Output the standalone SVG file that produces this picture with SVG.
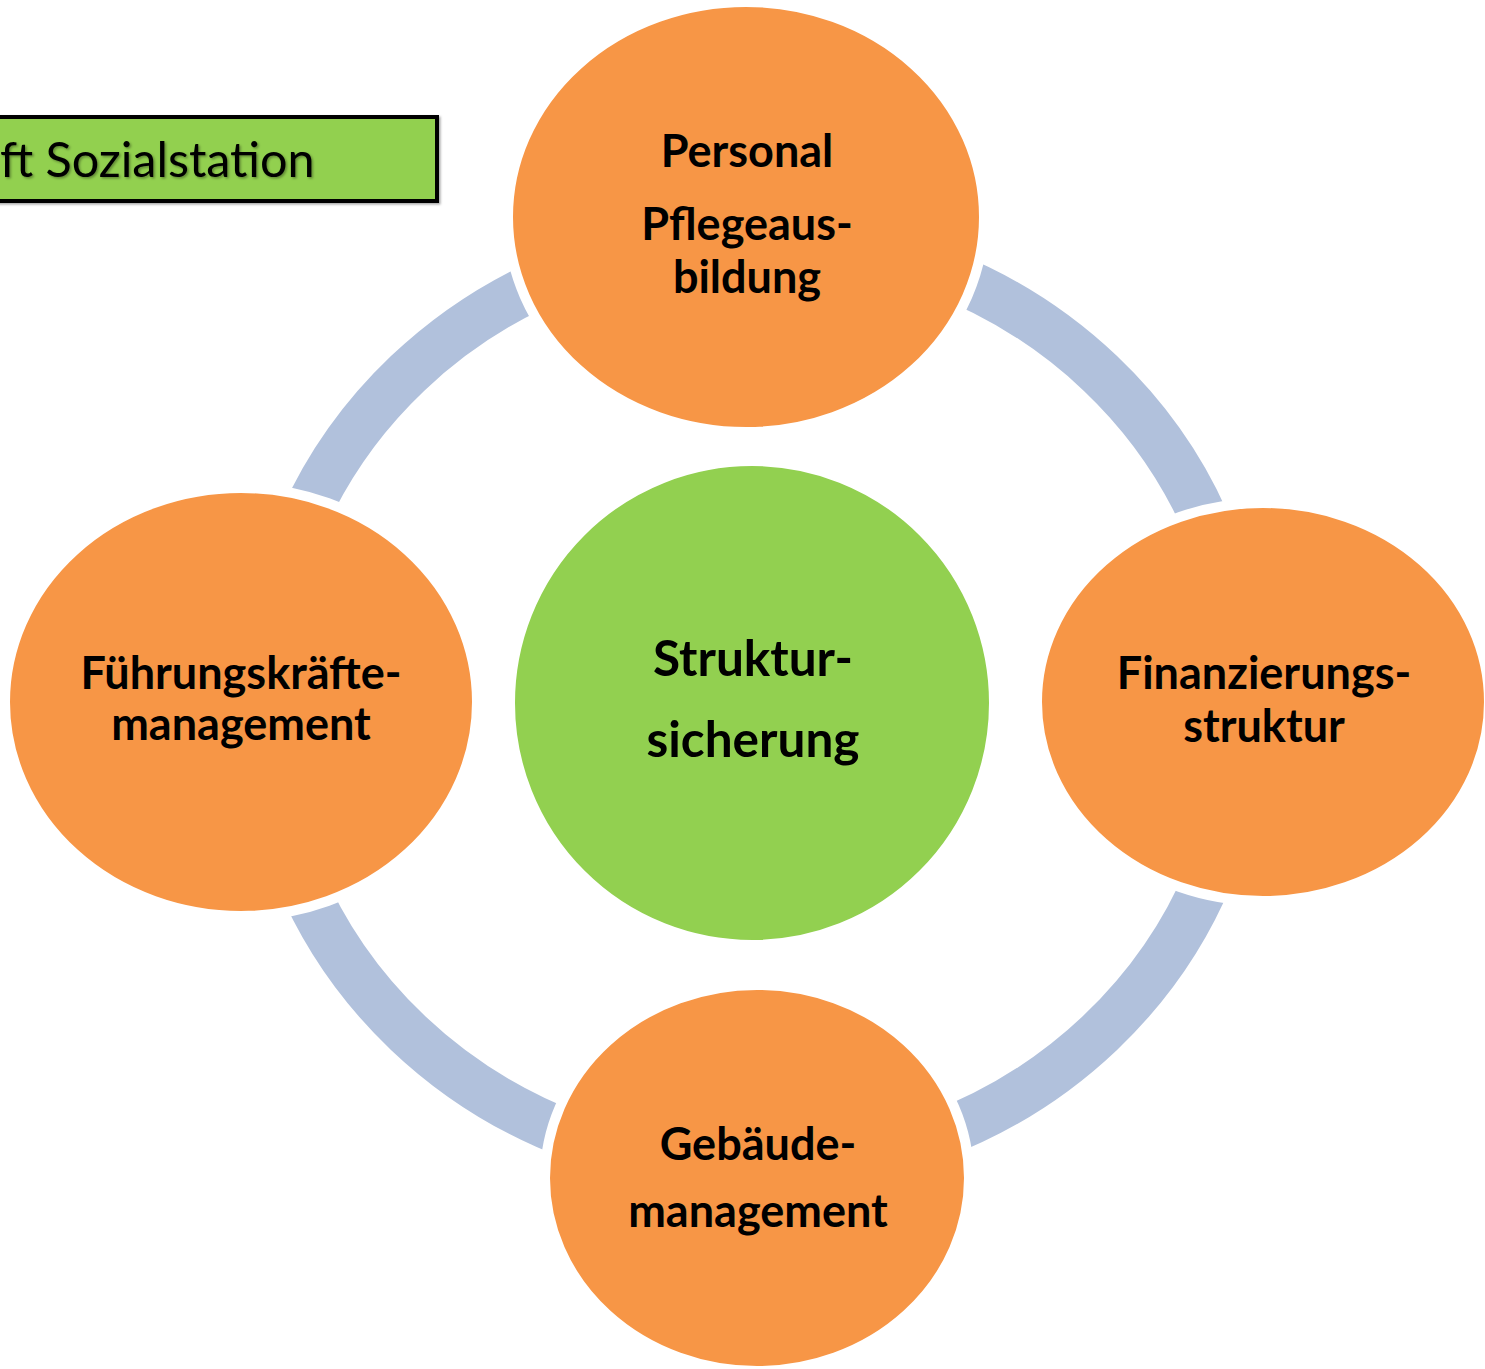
<svg xmlns="http://www.w3.org/2000/svg" width="1485" height="1369" viewBox="0 0 1485 1369">
  <defs>
    <style>
      .ring { fill: none; stroke: #B1C1DC; stroke-width: 48; stroke-linecap: butt; }
      .node { fill: #F79646; stroke: #FFFFFF; stroke-width: 10; }
      .hub { fill: #92D050; stroke: #FFFFFF; stroke-width: 2; }
      .label { font-family: Lato, "Liberation Sans", sans-serif; font-weight: 700; font-size: 45px; fill: #000000; text-anchor: middle; }
      .hub-label { font-size: 49.5px; }
      .title-box { fill: #92D050; stroke: #000000; stroke-width: 4; }
      .title { font-family: Lato, "Liberation Sans", sans-serif; font-weight: 400; font-size: 48.5px; fill: #000000; }
    </style>
    <filter id="soft-shadow" x="-10%" y="-20%" width="120%" height="140%">
      <feDropShadow dx="1.5" dy="1.5" stdDeviation="1" flood-color="#000000" flood-opacity="0.35"/>
    </filter>
  </defs>

  <rect width="1485" height="1369" fill="#FFFFFF"/>

  <!-- title box, running off the left edge -->
  <g id="title">
    <rect class="title-box" x="-60" y="117" width="497" height="84" filter="url(#soft-shadow)"/>
    <text class="title" x="0" y="177" filter="url(#soft-shadow)">ft Sozialstation</text>
  </g>

  <!-- cycle ring: four arcs between the outer nodes -->
  <g id="connectors">
    <path class="ring" d="M 754 237 A 490 466 0 0 0 264 703"/>
    <path class="ring" d="M 264 703 A 490 466 0 0 0 754 1169"/>
    <path class="ring" d="M 754 1169 A 490 466 0 0 0 1244 703"/>
    <path class="ring" d="M 1244 703 A 490 466 0 0 0 754 237"/>
  </g>

  <g id="node-center">
    <circle class="hub" cx="752" cy="703" r="238"/>
    <text class="label hub-label" x="753" y="676">Struktur-</text>
    <text class="label hub-label" x="753" y="757">sicherung</text>
  </g>

  <g id="node-top">
    <ellipse class="node" cx="746" cy="217" rx="238" ry="215"/>
    <text class="label" x="747" y="167">Personal</text>
    <text class="label" x="747" y="240">Pflegeaus-</text>
    <text class="label" x="747" y="293">bildung</text>
  </g>

  <g id="node-left">
    <ellipse class="node" cx="241" cy="702" rx="236" ry="214"/>
    <text class="label" x="241" y="689">Führungskräfte-</text>
    <text class="label" x="241" y="740">management</text>
  </g>

  <g id="node-right">
    <ellipse class="node" cx="1263" cy="702" rx="226" ry="199"/>
    <text class="label" x="1264" y="689">Finanzierungs-</text>
    <text class="label" x="1264" y="742">struktur</text>
  </g>

  <g id="node-bottom">
    <ellipse class="node" cx="757" cy="1178" rx="212" ry="193"/>
    <text class="label" x="758" y="1160">Gebäude-</text>
    <text class="label" x="758" y="1227">management</text>
  </g>
</svg>
